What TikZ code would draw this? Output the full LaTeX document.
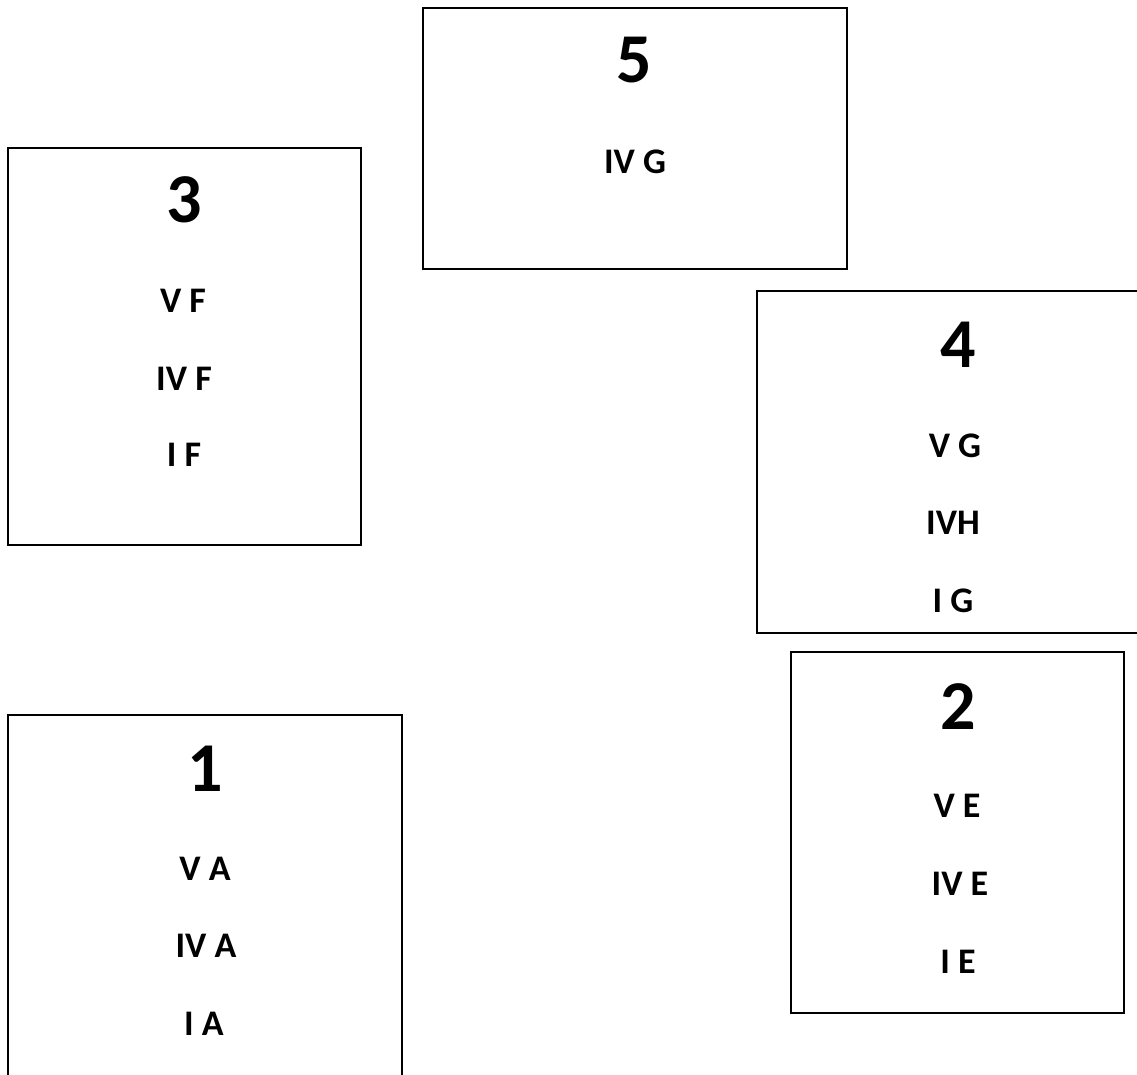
\documentclass[tikz,border=0pt]{standalone}
\usepackage{fontspec}
\setmainfont{Carlito}
\usepackage{tikz}

\begin{document}
\begin{tikzpicture}[
    x=1pt, y=-1pt,
    frame/.style={draw, line width=1.4pt},
    num/.style={inner sep=0pt, font=\fontsize{70}{70}\selectfont\bfseries},
    lbl/.style={inner sep=0pt, font=\fontsize{36}{36}\selectfont\bfseries}
  ]
    \useasboundingbox[fill=white] (0,0) rectangle (1137,1075);

    % frames
    \draw[frame] (423,8) rectangle (847,269);
    \draw[frame] (8,148) rectangle (361,545);
    \draw[frame] (1160,291) -- (757,291) -- (757,633) -- (1160,633);
    \draw[frame] (791,652) rectangle (1124,1013);
    \draw[frame] (8,1090) -- (8,715) -- (402,715) -- (402,1090);

    % box 5
    \node[num] (n5) at (634,60) {5};
    \node[lbl] (g5) at (635,162) {IV G};

    % box 3
    \node[num] (n3) at (184,200) {3};
    \node[lbl] (f5) at (183,301) {V F};
    \node[lbl] (f4) at (184,379) {IV F};
    \node[lbl] (f1) at (184,455) {I F};

    % box 4
    \node[num] (n4) at (958,345) {4};
    \node[lbl] (g4v) at (955,446) {V G};
    \node[lbl] (h4) at (953,523) {IVH};
    \node[lbl] (g4i) at (953,601) {I G};

    % box 2
    \node[num] (n2) at (958,707) {2};
    \node[lbl] (e5) at (957,806) {V E};
    \node[lbl] (e4) at (960,884) {IV E};
    \node[lbl] (e1) at (958,962) {I E};

    % box 1
    \node[num] (n1) at (205,769) {1};
    \node[lbl] (a5) at (205,869) {V A};
    \node[lbl] (a4) at (206,946) {IV A};
    \node[lbl] (a1) at (204,1024) {I A};
  \end{tikzpicture}
\end{document}
